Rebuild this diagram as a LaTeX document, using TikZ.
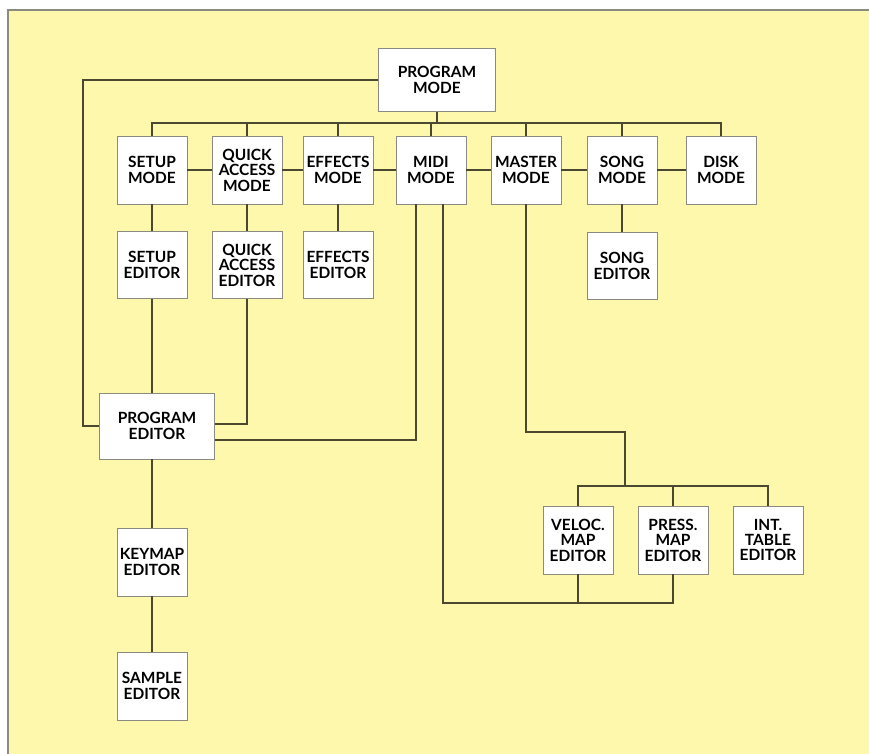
\documentclass[tikz,border=0pt]{standalone}
\usepackage{fontspec}
\setmainfont{Lato}
\usepackage{tikz}
\usetikzlibrary{positioning, calc}
\definecolor{paper}{HTML}{FDF8AC}
\definecolor{wire}{HTML}{4A4830}
\definecolor{frame}{HTML}{8A8A80}
\tikzstyle{box}=[draw=frame, line width=0.5pt, fill=white, minimum width=1.4cm, minimum height=1.36cm, inner sep=1pt, align=center, font=\bfseries\fontsize{8.8}{8.8}\selectfont]
\tikzstyle{line} = [draw=wire, line width=0.8pt]

\begin{document}
\begin{tikzpicture}[x=0.02cm, y=-0.02cm]
    \useasboundingbox (0,0) rectangle (869,754);
    \fill[paper] (8,10) rectangle (869,754);
    \draw[frame, line width=0.8pt] (8,754) -- (8,10) -- (869,10);

    \node [box, minimum width=2.34cm, minimum height=1.26cm](pmode) at (437,80) {PROGRAM\\MODE};

    \node [box](setupm) at (152,170) {SETUP\\MODE};
    \node [box](quickm) at (247,170) {QUICK\\ACCESS\\MODE};
    \node [box](effm) at (338,170) {EFFECTS\\MODE};
    \node [box](midim) at (431,170) {MIDI\\MODE};
    \node [box](masterm) at (526,170) {MASTER\\MODE};
    \node [box](songm) at (622,170) {SONG\\MODE};
    \node [box](diskm) at (721,170) {DISK\\MODE};

    \node [box, minimum height=1.34cm](setupe) at (152,265) {SETUP\\EDITOR};
    \node [box, minimum height=1.34cm](quicke) at (247,265) {QUICK\\ACCESS\\EDITOR};
    \node [box, minimum height=1.34cm](effe) at (338,265) {EFFECTS\\EDITOR};
    \node [box, minimum height=1.34cm](songe) at (622,266) {SONG\\EDITOR};

    \node [box, minimum width=2.3cm, minimum height=1.32cm](pedit) at (157,426) {PROGRAM\\EDITOR};
    \node [box](keymap) at (152,562) {KEYMAP\\EDITOR};
    \node [box](sample) at (152,686) {SAMPLE\\EDITOR};

    \node [box](veloc) at (578,540) {VELOC.\\MAP\\EDITOR};
    \node [box](press) at (673,540) {PRESS.\\MAP\\EDITOR};
    \node [box](inttab) at (768,540) {INT.\\TABLE\\EDITOR};

    \coordinate (bus) at (0,123);
    \coordinate (lft) at (83,0);
    \coordinate (bot) at (0,603);
    \coordinate (mbend) at (625,432);
    \coordinate (bus2) at (0,486);

    % mode bus
    \path[line] (pmode.south) -- (pmode.south |- bus);
    \path[line] (setupm.north) -- (setupm.north |- bus) -- (diskm.north |- bus) -- (diskm.north);
    \foreach \n in {quickm, effm, midim, masterm, songm}
        \path[line] (\n.north) -- (\n.north |- bus);
    \path[line] (setupm) -- (quickm) -- (effm) -- (midim) -- (masterm) -- (songm) -- (diskm);

    % editors
    \path[line] (setupm) -- (setupe);
    \path[line] (quickm) -- (quicke);
    \path[line] (effm) -- (effe);
    \path[line] (songm) -- (songe);
    \path[line] (setupe) -- (setupe |- pedit.north);
    \path[line] (pedit.south -| keymap) -- (keymap) -- (sample);
    \path[line] (pmode.west) -- (pmode.west -| lft) -- (lft |- pedit.west) -- (pedit.west);
    \path[line] (quicke.south) |- ($(pedit.east)+(0,-2)$);
    \path[line] ($(midim.south)+(-15,0)$) |- ($(pedit.east)+(0,14)$);

    % midi to map editors
    \path[line] ($(midim.south)+(12,0)$) |- (press.south |- bot) -- (press.south);
    \path[line] (veloc.south) -- (veloc.south |- bot);

    % master to map editors
    \path[line] (masterm.south) |- (mbend) -- (mbend |- bus2);
    \path[line] (veloc.north) |- (inttab.north |- bus2) -- (inttab.north);
    \path[line] (press.north) -- (press.north |- bus2);
\end{tikzpicture}
\end{document}
